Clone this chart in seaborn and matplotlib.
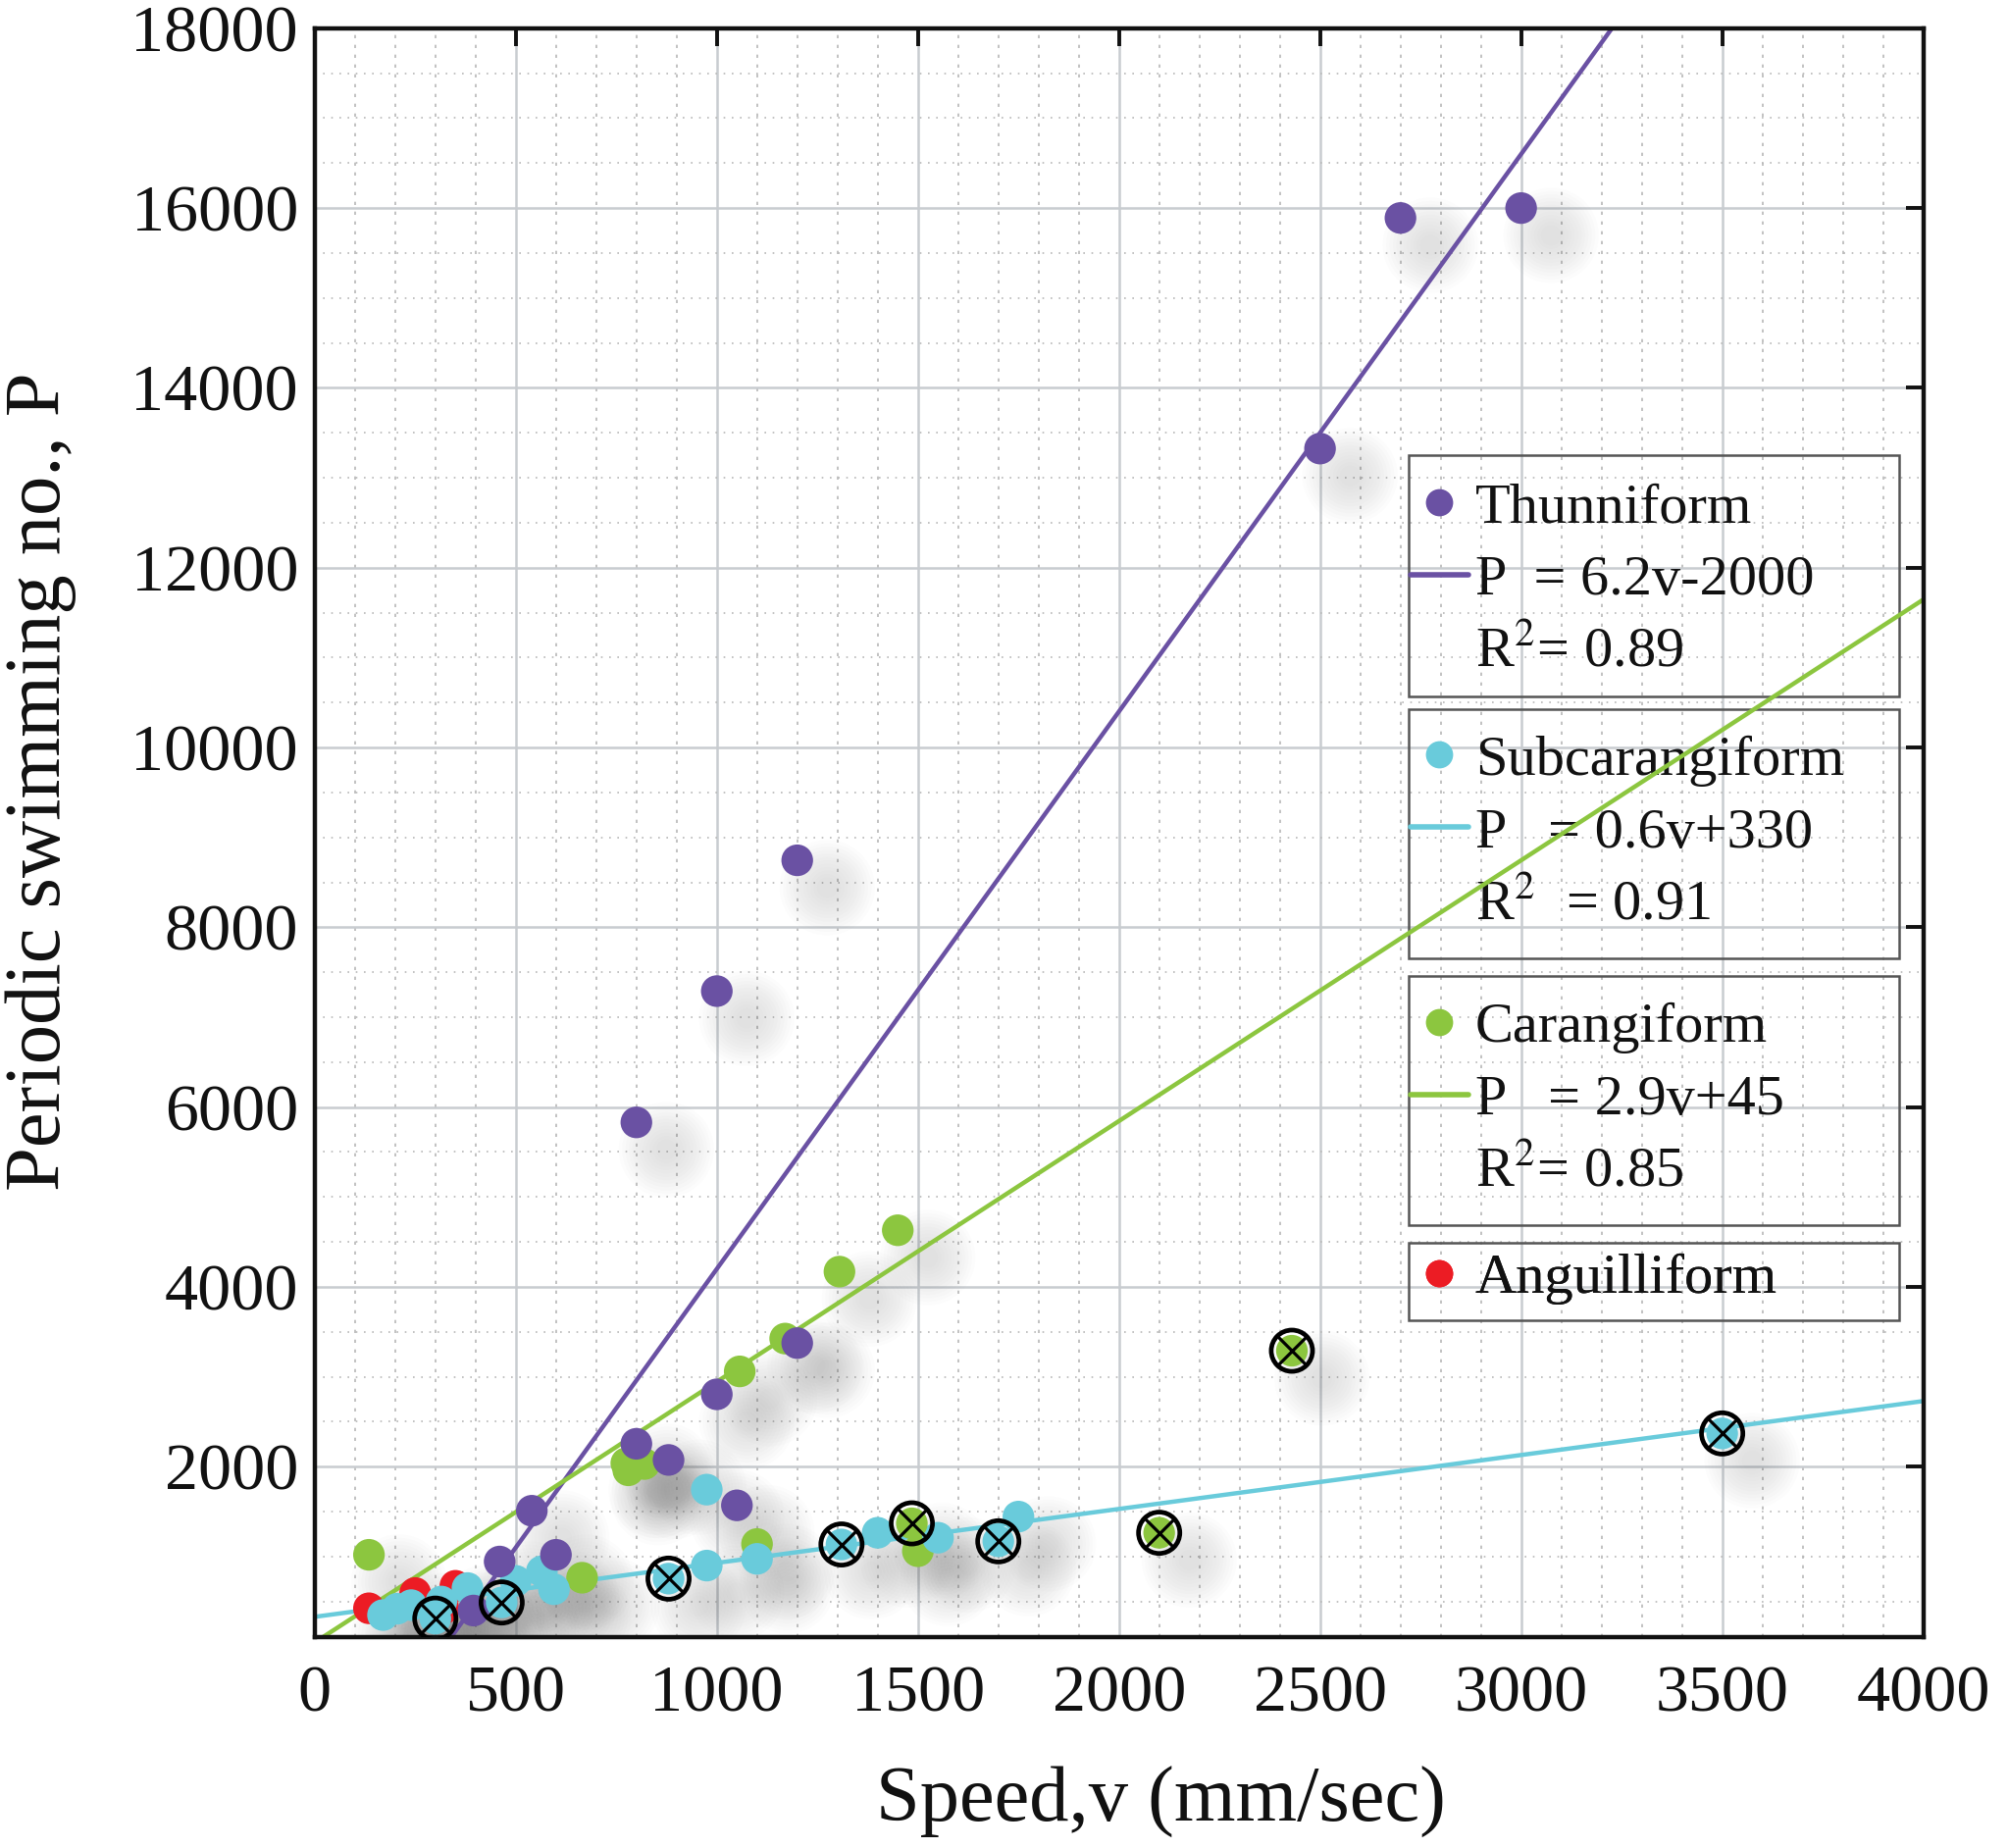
import numpy as np
import pandas as pd
import matplotlib
matplotlib.use("Agg")
import matplotlib.pyplot as plt
import seaborn as sns
from matplotlib.transforms import offset_copy
from matplotlib.lines import Line2D
from matplotlib.patches import Rectangle
from matplotlib.ticker import MultipleLocator

# ---------------- data ----------------
thun_v = [2700, 3000, 2500, 1200, 1000, 800, 1200, 1000, 800, 880, 1050, 540, 600, 460, 395]
thun_p = [15890, 16000, 13325, 8745, 7290, 5830, 3375, 2805, 2255, 2075, 1570, 1510, 1020, 945, 400]

car_v = [135, 1450, 1305, 1170, 1057, 775, 780, 820, 1100, 1500, 665]
car_p = [1020, 4630, 4170, 3425, 3060, 2040, 1960, 2030, 1140, 1060, 765]
car_x_v = [1485, 2100, 2430]
car_x_p = [1370, 1265, 3290]

sub_v = [975, 975, 1100, 1400, 1550, 1750, 170, 205, 240, 315, 380, 500, 565, 595]
sub_p = [1745, 900, 975, 1265, 1210, 1445, 350, 420, 460, 500, 650, 730, 837, 637]
sub_x_v = [300, 465, 880, 1310, 1700, 3500]
sub_x_p = [310, 490, 755, 1135, 1170, 2370]

ang_v = [135, 250, 350, 320]
ang_p = [425, 595, 675, 420]

# regression fits (slope, intercept) from the legend
fit_thun = (6.2, -2000)
fit_sub = (0.6, 330)
fit_car = (2.9, 45)

names = ["Thunniform", "Subcarangiform", "Carangiform", "Anguilliform"]
eq_labels = ["P  = 6.2v-2000", "P   = 0.6v+330", "P   = 2.9v+45"]
r2_labels = [r"R$^{2}$= 0.89", r"R$^{2}$  = 0.91", r"R$^{2}$= 0.85"]

x_ticks = [0, 500, 1000, 1500, 2000, 2500, 3000, 3500, 4000]
y_ticks = [2000, 4000, 6000, 8000, 10000, 12000, 14000, 16000, 18000]

# ---------------- style ----------------
C_PUR = "#6a51a3"
C_CYA = "#69cbdb"
C_GRN = "#8cc63f"
C_RED = "#ec1c24"

sns.set_theme(style="white")
plt.rcParams['font.family'] = ['Liberation Serif', 'DejaVu Serif']
plt.rcParams['mathtext.fontset'] = 'stix'

fig = plt.figure(figsize=(20.47, 18.84), dpi=100)
ax = fig.add_axes([0.1567, 0.1139, 0.8011, 0.8708])

def df(v, p):
    return pd.DataFrame({"v": v, "p": p})

# soft drop shadows
shadow_tr = offset_copy(ax.transData, fig=fig, x=22, y=-20, units='points')
all_v = thun_v + car_v + car_x_v + sub_v + sub_x_v + ang_v
all_p = thun_p + car_p + car_x_p + sub_p + sub_x_p + ang_p
sd = df(all_v, all_p)
for k in range(12):
    sz = (70 - 5 * k) ** 2
    sns.scatterplot(data=sd, x="v", y="p", ax=ax, s=sz, color="#707070",
                    alpha=0.014, edgecolor="none", linewidth=0,
                    transform=shadow_tr, zorder=1.2, legend=False)

# regression lines
xs = np.array([0.0, 4000.0])
for (m, b), c in [(fit_thun, C_PUR), (fit_sub, C_CYA), (fit_car, C_GRN)]:
    sns.lineplot(x=xs, y=m * xs + b, ax=ax, color=c, lw=3.2, zorder=2.5)

S = 540
sns.scatterplot(data=df(ang_v, ang_p), x="v", y="p", ax=ax, s=S, color=C_RED, edgecolor="none", zorder=3)
sns.scatterplot(data=df(car_v, car_p), x="v", y="p", ax=ax, s=S, color=C_GRN, edgecolor="none", zorder=3)
sns.scatterplot(data=df(sub_v, sub_p), x="v", y="p", ax=ax, s=S, color=C_CYA, edgecolor="none", zorder=3.1)
sns.scatterplot(data=df(thun_v, thun_p), x="v", y="p", ax=ax, s=S, color=C_PUR, edgecolor="none", zorder=3.2)

# crossed markers
for v, p, c in [(car_x_v, car_x_p, C_GRN), (sub_x_v, sub_x_p, C_CYA)]:
    d = df(v, p)
    sns.scatterplot(data=d, x="v", y="p", ax=ax, s=S, color=c, edgecolor="none", zorder=4)
    sns.scatterplot(data=d, x="v", y="p", ax=ax, s=920, facecolor="none",
                    edgecolor="black", linewidth=3.4, zorder=4.1)
    sns.scatterplot(data=d, x="v", y="p", ax=ax, s=460, marker="x",
                    color="black", linewidth=2.3, zorder=4.2)

# axes
ax.set_xlim(0, 4000)
ax.set_ylim(100, 18000)
ax.set_xticks(x_ticks)
ax.set_yticks(y_ticks)
ax.xaxis.set_minor_locator(MultipleLocator(100))
ax.yaxis.set_minor_locator(MultipleLocator(500))
ax.set_axisbelow(True)
ax.grid(which='major', color='#c8ccd0', lw=1.8, ls='-')
ax.xaxis.grid(which='minor', color='#b8b8b8', lw=1.2, ls=(0, (2, 4)))
ax.yaxis.grid(which='minor', color='#b8b8b8', lw=1.2, ls=(0, (1, 4)))
ax.tick_params(which='major', direction='in', length=13, width=2.8,
               top=True, right=True, labelsize=49, colors='#111111')
ax.tick_params(axis='x', which='major', pad=20)
ax.tick_params(axis='y', which='major', pad=12)
ax.tick_params(which='minor', length=0)
for sp in ax.spines.values():
    sp.set_linewidth(3.2)
    sp.set_color('#111111')

ax.set_xlabel("Speed,v (mm/sec)", fontsize=58, color='#111111')
ax.set_ylabel("Periodic swimming no., P", fontsize=58, color='#111111')
ax.xaxis.set_label_coords(0.526, -0.080)
ax.yaxis.set_label_coords(-0.148, 0.532)

# legends: frames as rectangles, entries as frameless legends
def dot(c):
    return Line2D([], [], marker='o', ls='none', markersize=20, markerfacecolor=c,
                  markeredgecolor='none')

def ln(c):
    return Line2D([], [], color=c, lw=4)

blank = Line2D([], [], ls='none')

# (handles, labels, frame_bottom, frame_top, text_top)
boxes = [
    ([dot(C_PUR), ln(C_PUR), blank], [names[0], eq_labels[0], r2_labels[0]], 0.585, 0.735, 0.718),
    ([dot(C_CYA), ln(C_CYA), blank], [names[1], eq_labels[1], r2_labels[1]], 0.422, 0.577, 0.561),
    ([dot(C_GRN), ln(C_GRN), blank], [names[2], eq_labels[2], r2_labels[2]], 0.256, 0.411, 0.395),
    ([dot(C_RED)], [names[3]], 0.197, 0.245, 0.239),
]
for handles, labels, yb, yt, ttop in boxes:
    ax.add_patch(Rectangle((0.680, yb), 0.305, yt - yb, transform=ax.transAxes,
                           facecolor='none', edgecolor='#555555', lw=1.8, zorder=1.5))
    leg = ax.legend(handles, labels, loc='upper left',
                    bbox_to_anchor=(0.6815, ttop), borderaxespad=0, borderpad=0,
                    fontsize=42, frameon=False,
                    handlelength=1.0, handletextpad=0.12, labelspacing=0.36,
                    labelcolor='#111111')
    leg.set_zorder(1.6)
    ax.add_artist(leg)

fig.savefig("out.png", dpi=100)
